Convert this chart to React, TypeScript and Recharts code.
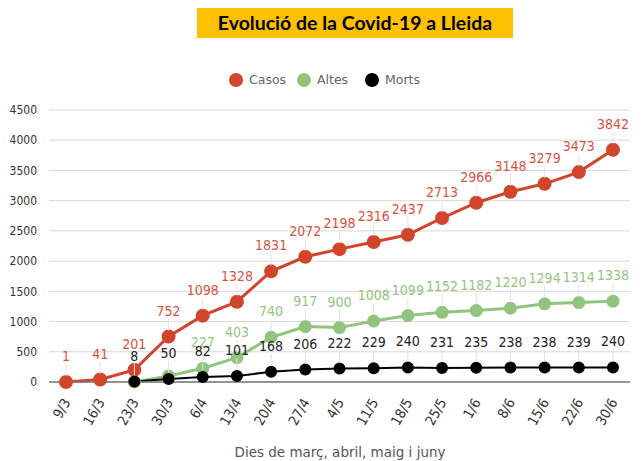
import { LineChart, Line, XAxis, YAxis, CartesianGrid } from 'recharts';

const fechas = ['9/3', '16/3', '23/3', '30/3', '6/4', '13/4', '20/4', '27/4', '4/5', '11/5', '18/5', '25/5', '1/6', '8/6', '15/6', '22/6', '30/6'];
const casos = [1, 41, 201, 752, 1098, 1328, 1831, 2072, 2198, 2316, 2437, 2713, 2966, 3148, 3279, 3473, 3842];
const altes = [null, null, 0, 100, 227, 403, 740, 917, 900, 1008, 1099, 1152, 1182, 1220, 1294, 1314, 1338];
const morts = [null, null, 8, 50, 82, 101, 168, 206, 222, 229, 240, 231, 235, 238, 238, 239, 240];
// etiquetes d'altes amagades darrere les de morts
const altesSenseEtiqueta = [2, 3];
const yTicks = [0, 500, 1000, 1500, 2000, 2500, 3000, 3500, 4000, 4500];

const ROJO = '#d0452c';
const VERDE = '#93c47d';
const NEGRO = '#000000';
const FONT = '"DejaVu Sans", Verdana, sans-serif';
const FONT_C = '"DejaVu Sans Condensed", "DejaVu Sans", sans-serif';

const data = fechas.map((f, i) => ({
  fecha: f,
  casos: casos[i],
  altes: altes[i],
  morts: morts[i],
}));

function makeLabel(color: string, skip: number[] = []) {
  return (props: any) => {
    const { x, y, value, index } = props;
    if (value == null || skip.includes(index)) return null;
    return (
      <g key={`l-${color}-${index}`}>
        <line x1={x} y1={y - 6} x2={x} y2={y - 18} stroke="#e2e2e2" strokeWidth={1} />
        <text x={x} y={y - 21} textAnchor="middle" fill={color} fontSize={14} fontFamily={FONT_C}>
          {value}
        </text>
      </g>
    );
  };
}

function FechaTick(props: any) {
  const { x, y, payload } = props;
  return (
    <text
      x={x + 5}
      y={y + 12}
      transform={`rotate(-60 ${x + 5} ${y + 12})`}
      textAnchor="end"
      fill="#333"
      fontSize={14}
      fontFamily={FONT_C}
    >
      {payload.value}
    </text>
  );
}

const legendItems = [
  { name: 'Casos', color: ROJO },
  { name: 'Altes', color: VERDE },
  { name: 'Morts', color: NEGRO },
];

export default function App() {
  return (
    <div style={{ position: 'absolute', left: 0, top: 0, width: 644, height: 461, background: '#fff' }}>
      <div
        style={{
          position: 'absolute',
          left: 197,
          top: 8,
          width: 316,
          height: 30,
          background: '#ffc000',
          fontFamily: 'Lato, "Open Sans", sans-serif',
          fontWeight: 700,
          fontSize: 19.5,
          lineHeight: '30px',
          textAlign: 'center',
          color: '#000',
        }}
      >
        Evolució de la Covid-19 a Lleida
      </div>
      <div style={{ position: 'absolute', left: 0, top: 72, width: 644, height: 18 }}>
        {legendItems.map((it, i) => (
          <div
            key={it.name}
            style={{
              position: 'absolute',
              left: 229 + i * 68,
              top: 0,
              display: 'flex',
              alignItems: 'center',
              fontFamily: FONT,
              fontSize: 12.5,
              color: '#666',
            }}
          >
            <span style={{ width: 14, height: 14, borderRadius: 7, background: it.color, display: 'inline-block', marginRight: 6 }} />
            {it.name}
          </div>
        ))}
      </div>
      <div style={{ position: 'absolute', left: 0, top: 0 }}>
        <LineChart width={644} height={461} data={data} margin={{ top: 110, right: 14, left: 5, bottom: 19 }}>
          <CartesianGrid vertical={false} stroke="#d9d9d9" />
          <XAxis
            dataKey="fecha"
            interval={0}
            padding={{ left: 17, right: 17 }}
            tick={<FechaTick />}
            tickLine={false}
            axisLine={{ stroke: '#777', strokeWidth: 1.5 }}
            height={60}
          />
          <YAxis
            domain={[0, 4500]}
            ticks={yTicks}
            width={44}
            tickLine={false}
            axisLine={false}
            tickMargin={6}
            tick={{ fill: '#333', fontSize: 12, fontFamily: FONT_C }}
          />
          <Line
            dataKey="casos"
            stroke={ROJO}
            strokeWidth={3}
            dot={{ r: 5.5, fill: ROJO, stroke: ROJO }}
            isAnimationActive={false}
            label={makeLabel('#d9533c')}
          />
          <Line
            dataKey="altes"
            stroke={VERDE}
            strokeWidth={3}
            dot={{ r: 5, fill: VERDE, stroke: VERDE }}
            isAnimationActive={false}
            label={makeLabel(VERDE, altesSenseEtiqueta)}
          />
          <Line
            dataKey="morts"
            stroke={NEGRO}
            strokeWidth={2}
            dot={{ r: 5, fill: NEGRO, stroke: NEGRO }}
            isAnimationActive={false}
            label={makeLabel('#222')}
          />
        </LineChart>
      </div>
      <div
        style={{
          position: 'absolute',
          left: 0,
          top: 444,
          width: 680,
          textAlign: 'center',
          fontFamily: FONT,
          fontSize: 13.5,
          color: '#555',
        }}
      >
        Dies de març, abril, maig i juny
      </div>
    </div>
  );
}
